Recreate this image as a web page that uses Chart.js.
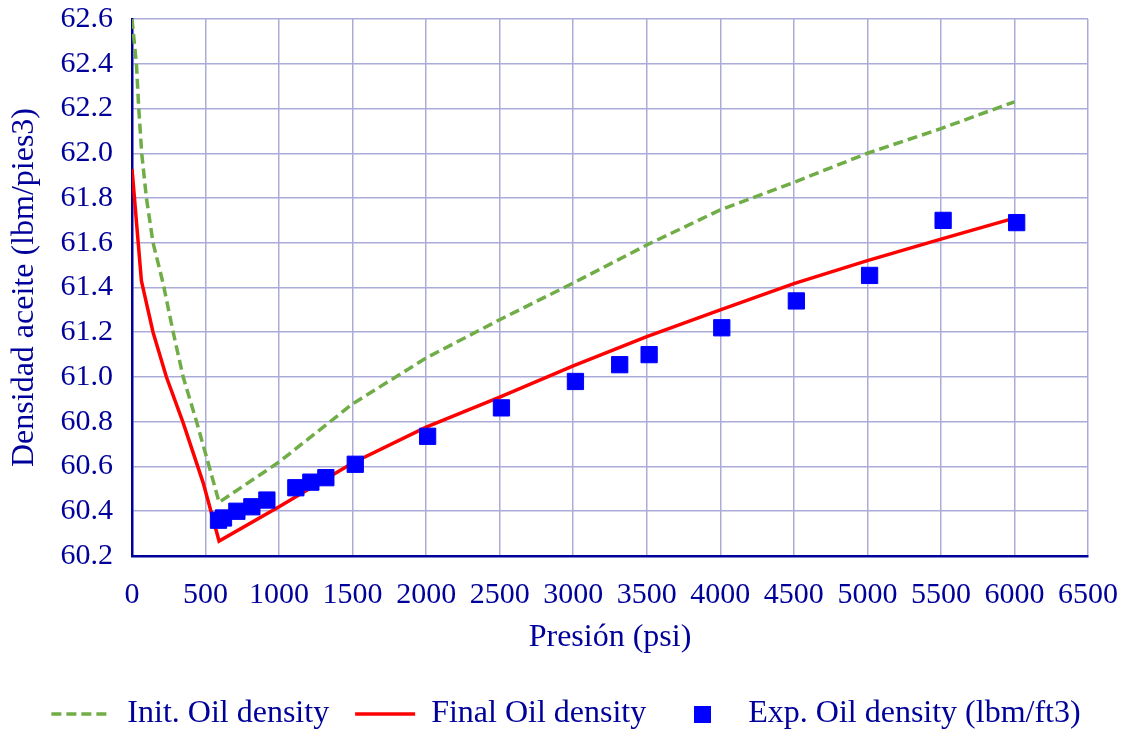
<!DOCTYPE html>
<html>
<head>
<meta charset="utf-8">
<script src="https://cdn.jsdelivr.net/npm/chart.js@4.4.1/dist/chart.umd.min.js"></script>
<style>
  html, body { margin: 0; padding: 0; background: #fff; }
  #wrap { width: 1126px; height: 733px; }
</style>
</head>
<body>
<div id="wrap"><canvas id="densityCanvas" width="1126" height="733"></canvas></div>
<script>
// valores
const presionInit = [0, 30, 46, 66, 98, 143, 211, 280, 348, 439, 529, 592, 1000, 1500, 2000, 2500, 3000, 3500, 4000, 4500, 5000, 5500, 6000];
const densidadInit = [62.6, 62.4, 62.2, 62.0, 61.8, 61.6, 61.42, 61.2, 61.0, 60.8, 60.59, 60.44, 60.62, 60.88, 61.085, 61.256, 61.42, 61.59, 61.747, 61.87, 62.0, 62.11, 62.23];

const presionFinal = [0, 64, 143, 234, 348, 484, 592, 1000, 1500, 2000, 2500, 3000, 3500, 4000, 4500, 5000, 5500, 6000];
const densidadFinal = [61.93, 61.43, 61.2, 61.0, 60.795, 60.527, 60.267, 60.42, 60.616, 60.776, 60.91, 61.05, 61.18, 61.3, 61.417, 61.52, 61.616, 61.71];

const presionExp = [588, 622, 713, 815, 917, 1114, 1216, 1318, 1518, 2010, 2512, 3015, 3316, 3516, 4010, 4517, 5015, 5515, 6015];
const densidadExp = [60.36, 60.37, 60.4, 60.42, 60.45, 60.505, 60.53, 60.55, 60.61, 60.735, 60.862, 60.98, 61.055, 61.1, 61.22, 61.34, 61.454, 61.7, 61.69];

const etiquetas = ['Init. Oil density', 'Final Oil density', 'Exp. Oil density (lbm/ft3)'];

const azulTexto = '#00009A';
const fuente = "'Liberation Serif', 'Times New Roman', serif";

const toPoints = (xs, ys) => xs.map((x, i) => ({ x: x, y: ys[i] }));

// cuadrado para la leyenda
const cuadrado = document.createElement('canvas');
cuadrado.width = 17;
cuadrado.height = 17;
const cctx = cuadrado.getContext('2d');
cctx.fillStyle = '#0000FF';
cctx.fillRect(0, 0, 17, 17);

const ctx = document.getElementById('densityCanvas').getContext('2d');

new Chart(ctx, {
    type: 'scatter',
    data: {
        datasets: [{
            label: etiquetas[0],
            data: toPoints(presionInit, densidadInit),
            showLine: true,
            borderColor: '#70AD47',
            backgroundColor: '#70AD47',
            borderWidth: 3.5,
            borderDash: [10, 5],
            pointRadius: 0,
            tension: 0,
            order: 2
        }, {
            label: etiquetas[1],
            data: toPoints(presionFinal, densidadFinal),
            showLine: true,
            borderColor: '#FF0000',
            backgroundColor: '#FF0000',
            borderWidth: 3.5,
            pointRadius: 0,
            tension: 0,
            order: 1
        }, {
            label: etiquetas[2],
            data: toPoints(presionExp, densidadExp),
            showLine: false,
            pointStyle: 'rect',
            pointRadius: 11.5,
            borderWidth: 1,
            borderColor: '#0000FF',
            backgroundColor: '#0000FF',
            order: 0
        }]
    },
    options: {
        responsive: false,
        animation: false,
        layout: {
            padding: { top: 19, right: 0, left: 6, bottom: -7 }
        },
        plugins: {
            tooltip: { enabled: false },
            legend: {
                position: 'bottom',
                labels: {
                    usePointStyle: true,
                    pointStyleWidth: 60,
                    padding: 26,
                    color: azulTexto,
                    font: { family: fuente, size: 32 },
                    sort: (a, b) => a.datasetIndex - b.datasetIndex,
                    generateLabels: function (chart) {
                        const items = Chart.defaults.plugins.legend.labels.generateLabels(chart);
                        items.forEach(item => {
                            const ds = chart.data.datasets[item.datasetIndex];
                            if (item.datasetIndex < 2) {
                                item.pointStyle = 'line';
                                item.strokeStyle = ds.borderColor;
                                item.lineWidth = ds.borderWidth;
                                item.lineDash = ds.borderDash || [];
                            } else {
                                item.pointStyle = cuadrado;
                            }
                        });
                        return items;
                    }
                }
            }
        },
        scales: {
            x: {
                type: 'linear',
                min: 0,
                max: 6500,
                afterFit: (scale) => {
                    scale.height = 116;
                    scale.paddingLeft = 0;
                    scale.paddingRight = 38;
                },
                ticks: {
                    stepSize: 500,
                    color: azulTexto,
                    padding: 21.5,
                    maxRotation: 0,
                    font: { family: fuente, size: 30 },
                    callback: (v) => String(v)
                },
                grid: { color: '#ABABDA', lineWidth: 1.5, drawTicks: false },
                border: { color: azulTexto, width: 2.5 },
                title: {
                    display: true,
                    text: 'Presión (psi)',
                    color: azulTexto,
                    font: { family: fuente, size: 32 },
                    padding: { top: 0, bottom: 15 }
                }
            },
            y: {
                min: 60.2,
                max: 62.6,
                afterFit: (scale) => {
                    scale.width = 126;
                    scale.paddingTop = 0;
                    scale.paddingBottom = 0;
                },
                ticks: {
                    stepSize: 0.2,
                    color: azulTexto,
                    padding: 19,
                    font: { family: fuente, size: 30 },
                    callback: (v) => v.toFixed(1)
                },
                grid: { color: '#ABABDA', lineWidth: 1.5, drawTicks: false },
                border: { color: azulTexto, width: 2.5 },
                title: {
                    display: true,
                    text: 'Densidad aceite (lbm/pies3)',
                    color: azulTexto,
                    font: { family: fuente, size: 32 },
                    padding: { top: -1, bottom: 0 }
                }
            }
        }
    }
});
</script>
</body>
</html>
